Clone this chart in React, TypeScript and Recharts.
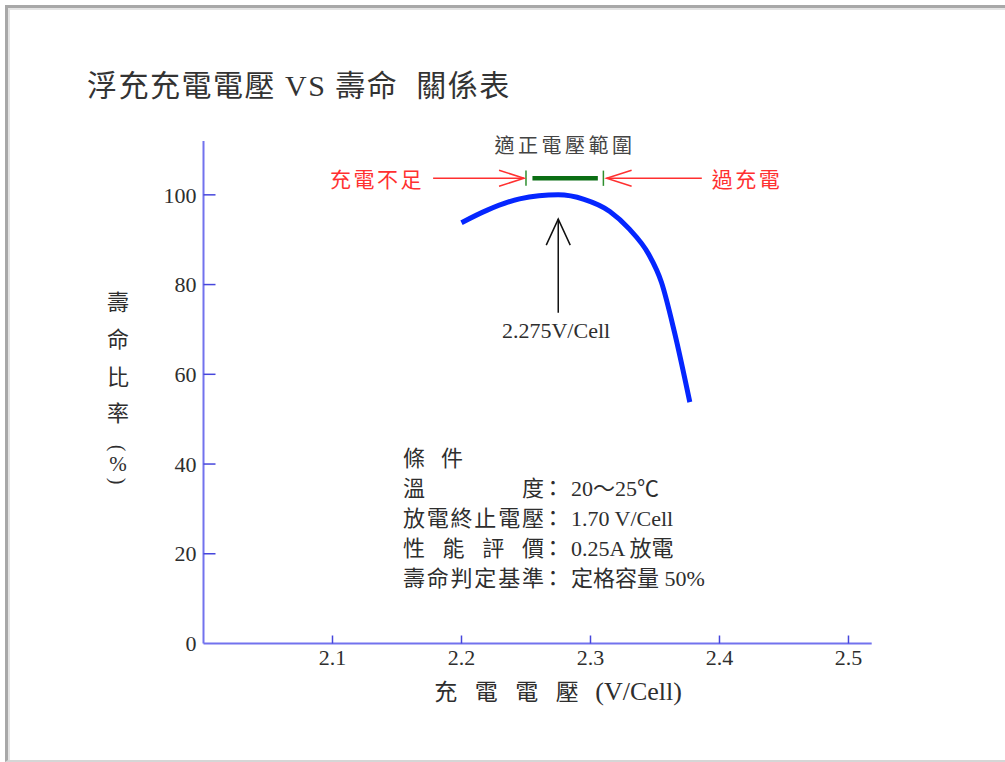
import React from 'react';
import { LineChart, Line, XAxis, YAxis, ReferenceLine, ReferenceDot } from 'recharts';

// float charge voltage (V/Cell) vs relative life (%)
const voltages = [2.2, 2.22, 2.245, 2.275, 2.295, 2.315, 2.33, 2.345, 2.355, 2.365, 2.377];
const lifeRatio = [93.8, 96.6, 99.1, 100, 99.0, 96.3, 92.4, 86.8, 80.5, 69.5, 53.8];

const xTicks = [2.1, 2.2, 2.3, 2.4, 2.5];
const yTicks = [0, 20, 40, 60, 80, 100];

const optimalVoltage = 2.275;
const rangeLow = 2.25;
const rangeHigh = 2.31;

const title = '浮充充電電壓 VS 壽命  關係表';
const rangeTitle = '適正電壓範圍';
const underLabel = '充電不足';
const overLabel = '過充電';
const optimalLabel = '2.275V/Cell';

const conditionTitle = ['條', '件'];
const conditionLabels = ['溫度', '放電終止電壓', '性能評價', '壽命判定基準'];
const conditionValues = ['20～25℃', '1.70 V/Cell', '0.25A 放電', '定格容量 50%'];

const yLabelChars = ['壽', '命', '比', '率'];
const yLabelUnit = ['(', '%', ')'];
const xLabelChars = ['充', '電', '電', '壓'];
const xLabelUnit = '(V/Cell)';

const data = voltages.map((v, i) => ({ v, life: lifeRatio[i] }));

const FONT = "'Liberation Serif', 'Noto Sans CJK TC', serif";
const TEXT = '#2e2e2e';
const AXIS = '#7272ee';
const TICK = '#4646dc';
const RED = '#ff3030';
const GREEN = '#0b6e14';

const arrowShape = (len: number, half: number) => (p: any) => {
  const { x1, y1, x2, y2, stroke, strokeWidth } = p;
  const dx = x2 - x1;
  const dy = y2 - y1;
  const d = Math.hypot(dx, dy) || 1;
  const ux = dx / d;
  const uy = dy / d;
  const bx = x2 - ux * len;
  const by = y2 - uy * len;
  return (
    <g>
      <line x1={x1} y1={y1} x2={x2} y2={y2} stroke={stroke} strokeWidth={strokeWidth} />
      <polyline
        points={`${bx - uy * half},${by + ux * half} ${x2},${y2} ${bx + uy * half},${by - ux * half}`}
        fill="none"
        stroke={stroke}
        strokeWidth={strokeWidth}
      />
    </g>
  );
};

const textShape = (text: string, size: number, color: string, spacing = 0) => (p: any) => (
  <text
    x={p.cx}
    y={p.cy}
    textAnchor="middle"
    fontFamily={FONT}
    fontSize={size}
    fill={color}
    letterSpacing={spacing}
  >
    {text}
  </text>
);

// spread characters of a label over a fixed width, like the original table
const spread = (chars: string[], width: number) =>
  chars.map((_, i) => (chars.length > 1 ? (i * width) / (chars.length - 1) : 0));

const conditionsShape = (p: any) => {
  const { cx, cy } = p;
  return (
    <g fontFamily={FONT} fontSize={22} fill={TEXT}>
      <text x={cx} y={cy}>{conditionTitle[0]}</text>
      <text x={cx + 38} y={cy}>{conditionTitle[1]}</text>
      {conditionLabels.map((label, i) => {
        const chars = label.split('');
        const xs = spread(chars, 119);
        const y = cy + 30 * (i + 1);
        return (
          <g key={label}>
            {chars.map((c, j) => (
              <text key={j} x={cx + xs[j]} y={y}>{c}</text>
            ))}
            <text x={cx + 139} y={y}>：</text>
            <text x={cx + 168} y={y}>{conditionValues[i]}</text>
          </g>
        );
      })}
    </g>
  );
};

const yLabelShape = (p: any) => {
  const { cx, cy } = p;
  const unitOffs = [146, 162, 179];
  return (
    <g fontFamily={FONT} fill={TEXT} textAnchor="middle">
      {yLabelChars.map((c, i) => (
        <text key={i} x={cx} y={cy + [0, 37, 75, 111][i]} dominantBaseline="central" fontSize={22}>{c}</text>
      ))}
      {yLabelUnit.map((c, i) => {
        const y = cy + unitOffs[i];
        return (
          <text
            key={c}
            x={cx}
            y={y}
            dominantBaseline="central"
            fontSize={i === 1 ? 21 : 20}
            transform={i === 1 ? undefined : `rotate(90 ${cx} ${y})`}
          >
            {c}
          </text>
        );
      })}
    </g>
  );
};

const xLabelShape = (p: any) => (
  <g fontFamily={FONT} fill={TEXT}>
    {xLabelChars.map((c, i) => (
      <text key={i} x={p.cx + i * 40.5} y={p.cy} fontSize={23}>{c}</text>
    ))}
    <text x={p.cx + 161} y={p.cy} fontSize={26}>{xLabelUnit}</text>
  </g>
);

const XTick = (p: any) => {
  const { x, y, payload } = p;
  return (
    <g>
      <line x1={x} y1={y} x2={x} y2={y - 8} stroke={TICK} strokeWidth={1.5} />
      <text x={x} y={y + 21.5} textAnchor="middle" fontFamily={FONT} fontSize={22} fill={TEXT}>
        {payload.value}
      </text>
    </g>
  );
};

const YTick = (p: any) => {
  const { x, y, payload } = p;
  return (
    <g>
      {payload.value !== 0 && (
        <line x1={x} y1={y} x2={x + 12} y2={y} stroke={TICK} strokeWidth={1.5} />
      )}
      <text x={x - 7} y={y} dy="0.35em" textAnchor="end" fontFamily={FONT} fontSize={22} fill={TEXT}>
        {payload.value}
      </text>
    </g>
  );
};

export default function App() {
  return (
    <div style={{ position: 'absolute', left: 0, top: 0, width: 1005, height: 762, background: '#fff', overflow: 'hidden' }}>
      <div
        style={{
          position: 'absolute', left: 5, top: 5, width: 1010, height: 752,
          borderTop: '3px solid #a8a8a8', borderLeft: '3px solid #a8a8a8', borderBottom: '2px solid #d6d6d6',
        }}
      >
        <div style={{ position: 'absolute', left: 0, top: 0, right: 0, bottom: 0, borderTop: '2px solid #e4e4e4', borderLeft: '2px solid #e4e4e4' }} />
      </div>
      <div
        style={{
          position: 'absolute', left: 87, top: 71, fontFamily: FONT, fontSize: 30, lineHeight: '30px',
          color: '#333', whiteSpace: 'pre', letterSpacing: 1.5,
        }}
      >
        {title}
      </div>
      <div style={{ position: 'absolute', left: 0, top: 0 }}>
        <LineChart width={1005} height={762} data={data} margin={{ top: 141, right: 133.3, bottom: 88.5, left: 143.5 }}>
          <XAxis
            type="number"
            dataKey="v"
            domain={[2.0, 2.518]}
            ticks={xTicks}
            interval={0}
            allowDataOverflow
            axisLine={{ stroke: AXIS, strokeWidth: 2 }}
            tickLine={false}
            tickSize={0}
            tickMargin={0}
            tick={<XTick />}
          />
          <YAxis
            type="number"
            domain={[0, 112]}
            ticks={yTicks}
            interval={0}
            allowDataOverflow
            axisLine={{ stroke: AXIS, strokeWidth: 2 }}
            tickLine={false}
            tickSize={0}
            tickMargin={0}
            tick={<YTick />}
          />
          <Line
            type="monotone"
            dataKey="life"
            stroke="#0526ff"
            strokeWidth={5}
            dot={false}
            activeDot={false}
            isAnimationActive={false}
          />

          {/* recommended float voltage range */}
          <ReferenceLine
            segment={[{ x: 2.255, y: 103.7 }, { x: 2.3057, y: 103.7 }]}
            stroke={GREEN}
            strokeWidth={4.5}
          />
          <ReferenceLine segment={[{ x: rangeLow, y: 102.0 }, { x: rangeLow, y: 105.4 }]} stroke="#2f8f2f" strokeWidth={1.5} />
          <ReferenceLine segment={[{ x: rangeHigh, y: 102.0 }, { x: rangeHigh, y: 105.4 }]} stroke="#2f8f2f" strokeWidth={1.5} />
          <ReferenceLine
            segment={[{ x: 2.178, y: 103.7 }, { x: 2.2485, y: 103.7 }]}
            stroke={RED}
            strokeWidth={1.5}
            shape={arrowShape(25, 8)}
          />
          <ReferenceLine
            segment={[{ x: 2.3863, y: 103.7 }, { x: 2.3125, y: 103.7 }]}
            stroke={RED}
            strokeWidth={1.5}
            shape={arrowShape(25, 8)}
          />
          <ReferenceDot x={2.2803} y={109.3} r={0} ifOverflow="visible" shape={textShape(rangeTitle, 20, '#444', 3.5)} />
          <ReferenceDot x={2.1345} y={101.7} r={0} ifOverflow="visible" shape={textShape(underLabel, 21, RED, 2.5)} />
          <ReferenceDot x={2.4214} y={101.7} r={0} ifOverflow="visible" shape={textShape(overLabel, 21, RED, 2.5)} />

          {/* optimum voltage marker */}
          <ReferenceLine
            segment={[{ x: optimalVoltage, y: 73.7 }, { x: optimalVoltage, y: 94.6 }]}
            stroke="#111"
            strokeWidth={1.5}
            shape={arrowShape(26, 12)}
          />
          <ReferenceDot x={2.2733} y={68.1} r={0} ifOverflow="visible" shape={textShape(optimalLabel, 22, TEXT)} />

          {/* test conditions */}
          <ReferenceDot x={2.1546} y={39.66} r={0} ifOverflow="visible" shape={conditionsShape} />

          {/* axis titles */}
          <ReferenceDot x={1.9337} y={76.1} r={0} ifOverflow="visible" shape={yLabelShape} />
          <ReferenceDot x={2.1789} y={-12.6} r={0} ifOverflow="visible" shape={xLabelShape} />
        </LineChart>
      </div>
    </div>
  );
}
